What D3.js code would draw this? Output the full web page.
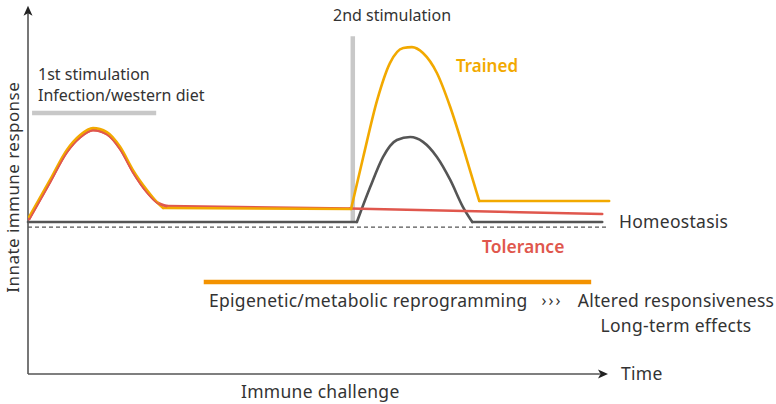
<!DOCTYPE html>
<html>
<head>
<meta charset="utf-8">
<script src="https://cdn.jsdelivr.net/npm/d3@7"></script>
<style>
  html, body { margin: 0; padding: 0; background: #fff; }
  svg { display: block; }
  text { font-family: "Noto Sans", "Open Sans", sans-serif; fill: #333; }
</style>
</head>
<body>
<svg id="chart" width="776" height="404"></svg>
<script>
// ---- data (time 0-100, response: homeostasis = 0) ----
const trainedT = [0.2, 3.8, 6.7, 9.0, 11.2, 13.6, 15.9, 18.1, 20.5, 22.2, 23.3, 55.7, 57.8, 60.2, 62.4, 64.7, 66.2, 68.1, 70.5, 72.8, 75.0, 76.7, 77.8, 100.2];
const trainedV = [2.9, 24.2, 41.5, 50.1, 54.1, 51.8, 43.2, 29.9, 18.4, 11.5, 8.1, 7.5, 37.4, 70.2, 91.5, 100.2, 100.7, 97.3, 85.8, 66.2, 43.2, 24.2, 12.1, 12.1];
const trainedKinks = [0, 10, 11, 22, 23];

const toleranceT = [0.2, 3.8, 6.7, 9.0, 11.2, 13.6, 15.9, 18.1, 20.5, 22.2, 24.0, 55.5, 99.0];
const toleranceV = [1.7, 23.0, 40.3, 48.9, 53.0, 50.7, 42.0, 28.8, 17.3, 11.5, 9.2, 7.8, 4.6];
const toleranceKinks = [0, 10, 11, 12];

const naiveT = [0, 56.7, 59.0, 61.2, 63.6, 65.9, 68.1, 70.5, 72.8, 75.0, 76.6, 99.0];
const naiveV = [0, 0, 20.1, 37.4, 47.2, 48.9, 46.1, 37.4, 24.2, 8.6, 0, 0];
const naiveKinks = [0, 1, 10, 11];

const homeostasisLevel = -2.9;          // dashed reference line
const stim1Span = [0.7, 22.1];          // grey bar of 1st stimulation
const stim1Level = 62.7;
const stim2Time = [56.0];               // grey vertical bar of 2nd stimulation
const stim2Range = [0, 107];
const reprogSpan = [30.3, 97.1];        // orange reprogramming bar
const reprogLevel = -34.5;

const labels = {
  yAxis: "Innate immune response",
  xAxis: "Immune challenge",
  time: "Time",
  stim1: ["1st stimulation", "Infection/western diet"],
  stim2: "2nd stimulation",
  trained: "Trained",
  tolerance: "Tolerance",
  homeostasis: "Homeostasis",
  reprog: "Epigenetic/metabolic reprogramming",
  arrows: "\u203A\u203A\u203A",
  outcome: ["Altered responsiveness", "Long-term effects"]
};

// ---- colours ----
const cTrained = "#f2a900", cTolerance = "#e0574d", cNaive = "#555555";
const cGrey = "#c8c8c8", cOrange = "#f39200", cAxis = "#555555";

const svg = d3.select("#chart");
const x = d3.scaleLinear().domain([0, 100]).range([28, 608]);
const y = d3.scaleLinear().domain([-87.5, 125.5]).range([374, 4]);

// axes
svg.append("line").attr("x1", x(0)).attr("x2", x(98.6)).attr("y1", y(-87.5)).attr("y2", y(-87.5))
  .attr("stroke", cAxis).attr("stroke-width", 1.6);
svg.append("line").attr("x1", x(0)).attr("x2", x(0)).attr("y1", y(-87.5)).attr("y2", y(121))
  .attr("stroke", cAxis).attr("stroke-width", 1.6);
// arrowheads
const ax = x(100), ay = y(-87.5);
svg.append("path").attr("d", `M${ax},${ay} L${ax-10},${ay-4.5} L${ax-7.5},${ay} L${ax-10},${ay+4.5} Z`).attr("fill", "#222");
const bx = x(0), by = y(124.5);
svg.append("path").attr("d", `M${bx},${by} L${bx-4.5},${by+10} L${bx},${by+7.5} L${bx+4.5},${by+10} Z`).attr("fill", "#222");

// annotation bars
svg.append("line").attr("x1", x(stim1Span[0])).attr("x2", x(stim1Span[1]))
  .attr("y1", y(stim1Level)).attr("y2", y(stim1Level)).attr("stroke", cGrey).attr("stroke-width", 4.5);
svg.append("line").attr("x1", x(stim2Time[0])).attr("x2", x(stim2Time[0]))
  .attr("y1", y(stim2Range[0])).attr("y2", y(stim2Range[1])).attr("stroke", cGrey).attr("stroke-width", 4.5);
svg.append("line").attr("x1", x(reprogSpan[0])).attr("x2", x(reprogSpan[1]))
  .attr("y1", y(reprogLevel)).attr("y2", y(reprogLevel)).attr("stroke", cOrange).attr("stroke-width", 4.5);

// dashed homeostasis line
svg.append("line").attr("x1", x(0)).attr("x2", x(100)).attr("y1", y(homeostasisLevel)).attr("y2", y(homeostasisLevel))
  .attr("stroke", "#555").attr("stroke-width", 1.3).attr("stroke-dasharray", "4,3");

// series
const line = d3.line().x(d => x(d[0])).y(d => y(d[1])).curve(d3.curveMonotoneX);
function drawSeries(T, V, kinks, color) {
  const pts = T.map((t, i) => [t, V[i]]);
  const g = svg.append("g");
  for (let k = 0; k < kinks.length - 1; k++) {
    const piece = pts.slice(kinks[k], kinks[k + 1] + 1);
    g.append("path").attr("d", line(piece)).attr("fill", "none").attr("stroke", color)
      .attr("stroke-width", 2.6).attr("stroke-linejoin", "round").attr("stroke-linecap", "round");
  }
}
drawSeries(naiveT, naiveV, naiveKinks, cNaive);
drawSeries(toleranceT, toleranceV, toleranceKinks, cTolerance);
drawSeries(trainedT, trainedV, trainedKinks, cTrained);
// redraw first tolerance peak on top (red over yellow edge)
{
  const pts = toleranceT.map((t, i) => [t, toleranceV[i]]).slice(0, 11);
  svg.append("path").attr("d", line(pts)).attr("fill", "none").attr("stroke", cTolerance)
    .attr("stroke-width", 1.6).attr("transform", "translate(0,0.8)");
}

// texts
const fs = 17.5, ls = "0.28px";
svg.append("text").attr("transform", `translate(18.5,${y(20)}) rotate(-90)`).attr("text-anchor", "middle")
  .style("font-size", "17px").style("letter-spacing", "0.45px").text(labels.yAxis);
svg.append("text").attr("x", 241).attr("y", 398).style("font-size", fs + "px").style("letter-spacing", ls).text(labels.xAxis);
svg.append("text").attr("x", 621).attr("y", 380).style("font-size", fs + "px").style("letter-spacing", ls).text(labels.time);
svg.append("text").attr("x", 38).attr("y", 80).style("font-size", "16px").text(labels.stim1[0]);
svg.append("text").attr("x", 38).attr("y", 101).style("font-size", "16px").text(labels.stim1[1]);
svg.append("text").attr("x", 333).attr("y", 21).style("font-size", "16px").text(labels.stim2);
svg.append("text").attr("x", 456).attr("y", 72).style("font-size", "17px").style("font-weight", 600)
  .style("fill", cTrained).text(labels.trained);
svg.append("text").attr("x", 482).attr("y", 253).style("font-size", "17.5px").style("font-weight", 600)
  .style("fill", cTolerance).text(labels.tolerance);
svg.append("text").attr("x", 619).attr("y", 228).style("font-size", fs + "px").style("letter-spacing", ls).text(labels.homeostasis);
svg.append("text").attr("x", 209).attr("y", 307).style("font-size", fs + "px").style("letter-spacing", ls).text(labels.reprog);
svg.append("text").attr("x", 552).attr("y", 306).attr("text-anchor", "middle").style("font-size", "16px")
  .style("letter-spacing", "2px").text(labels.arrows);
svg.append("text").attr("x", 676).attr("y", 307).attr("text-anchor", "middle").style("font-size", fs + "px").style("letter-spacing", ls).text(labels.outcome[0]);
svg.append("text").attr("x", 676).attr("y", 332).attr("text-anchor", "middle").style("font-size", fs + "px").style("letter-spacing", ls).text(labels.outcome[1]);
</script>
</body>
</html>
